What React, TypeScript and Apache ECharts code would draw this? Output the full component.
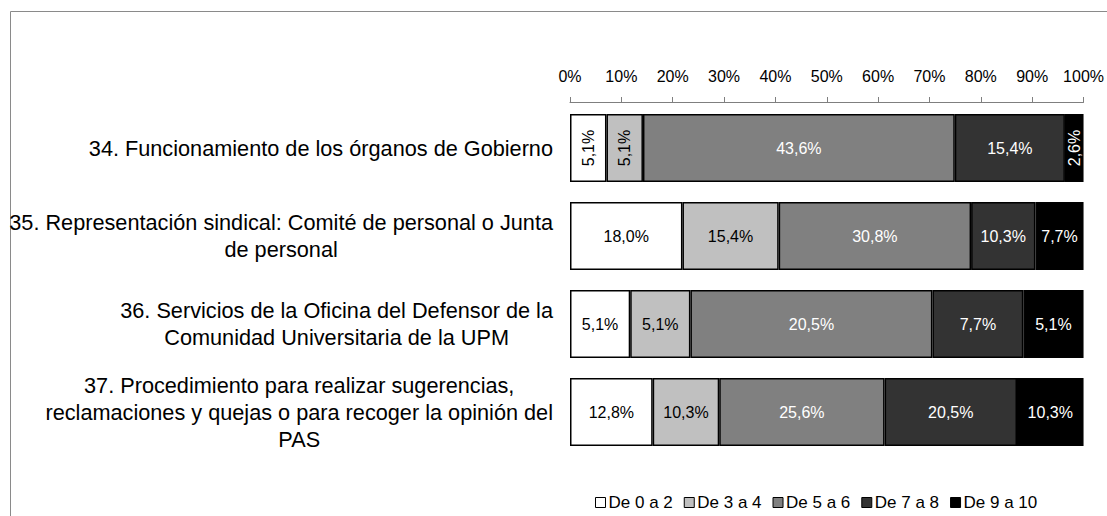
import React, { useEffect, useRef } from "react";
import * as echarts from "echarts";

const categories = [
  "34. Funcionamiento de los órganos de Gobierno",
  "35. Representación sindical: Comité de personal o Junta\nde personal",
  "36. Servicios de la Oficina del Defensor de la\nComunidad Universitaria de la UPM",
  "37. Procedimiento para realizar sugerencias,\nreclamaciones y quejas o para recoger la opinión del\nPAS",
];
const seriesNames = ["De 0 a 2", "De 3 a 4", "De 5 a 6", "De 7 a 8", "De 9 a 10"];
const de0a2 = [5.1, 18.0, 5.1, 12.8];
const de3a4 = [5.1, 15.4, 5.1, 10.3];
const de5a6 = [43.6, 30.8, 20.5, 25.6];
const de7a8 = [15.4, 10.3, 7.7, 20.5];
const de9a10 = [2.6, 7.7, 5.1, 10.3];
const tickLabels = ["0%", "10%", "20%", "30%", "40%", "50%", "60%", "70%", "80%", "90%", "100%"];

const rawSeries = [de0a2, de3a4, de5a6, de7a8, de9a10];
const colors = ["#ffffff", "#c0c0c0", "#808080", "#333333", "#000000"];
const labelColors = ["#000000", "#000000", "#ffffff", "#ffffff", "#ffffff"];
const FONT = "Liberation Sans";

export default function App() {
  const ref = useRef<HTMLDivElement>(null);
  useEffect(() => {
    if (!ref.current) return;
    const chart = echarts.init(ref.current, null, { renderer: "svg" });
    const totals = categories.map((_, i) => rawSeries.reduce((s, arr) => s + arr[i], 0));

    const series = rawSeries.map((arr, si) => ({
      name: seriesNames[si],
      type: "bar",
      stack: "total",
      barWidth: 68,
      itemStyle: { color: colors[si], borderColor: "#000", borderWidth: 1.5 },
      label: {
        show: true,
        position: "inside",
        color: labelColors[si],
        fontFamily: FONT,
        fontSize: 16,
        formatter: (p: any) => arr[p.dataIndex].toFixed(1).replace(".", ",") + "%",
      },
      data: arr.map((v, i) => {
        const share = (v / totals[i]) * 100;
        return share < 9 ? { value: share, label: { rotate: 90 } } : { value: share };
      }),
    }));

    chart.setOption({
      animation: false,
      backgroundColor: "#ffffff",
      grid: { left: 570, right: 23, top: 104, bottom: 60, containLabel: false },
      xAxis: {
        type: "value",
        position: "top",
        min: 0,
        max: 100,
        interval: 10,
        offset: 2,
        splitLine: { show: false },
        axisLine: { show: true, lineStyle: { color: "#7f7f7f", width: 1 } },
        axisTick: { show: true, length: 5, lineStyle: { color: "#7f7f7f" } },
        axisLabel: {
          margin: 18,
          fontFamily: FONT,
          fontSize: 16,
          color: "#000",
          formatter: (v: number) => tickLabels[Math.round(v / 10)],
        },
      },
      yAxis: {
        type: "category",
        inverse: true,
        data: categories,
        axisLine: { show: false },
        axisTick: { show: false },
        axisLabel: { show: false },
      },
      legend: {
        left: 595,
        top: 494,
        padding: 0,
        itemWidth: 10,
        itemHeight: 10,
        itemGap: 11,
        icon: "rect",
        textStyle: { fontFamily: FONT, fontSize: 17, color: "#000", padding: [0, 0, 0, -2] },
        data: seriesNames.map((n, i) => ({
          name: n,
          itemStyle: { color: colors[i], borderColor: "#000", borderWidth: 1 },
        })),
      },
      series,
    });

    // category labels: block right-aligned, lines centered
    const canvas = document.createElement("canvas");
    const ctx = canvas.getContext("2d")!;
    const fontSize = 21.7;
    ctx.font = `${fontSize}px "${FONT}"`;
    const rightEdge = 553;
    const texts = categories.map((c) => {
      const lines = c.split("\n");
      const w = Math.max(...lines.map((l) => ctx.measureText(l).width));
      const y = chart.convertToPixel({ yAxisIndex: 0 }, c) as unknown as number;
      return {
        type: "text",
        x: rightEdge - w / 2,
        y,
        style: {
          text: c,
          fontFamily: FONT,
          fontSize,
          fill: "#000",
          align: "center",
          verticalAlign: "middle",
          lineHeight: 27,
        },
      };
    });

    chart.setOption({
      graphic: [
        {
          type: "rect",
          shape: { x: 10.5, y: 11.5, width: 1300, height: 700 },
          style: { fill: "none", stroke: "#8a8a8a", lineWidth: 1 },
          silent: true,
        },
        ...texts,
      ],
    });

    return () => chart.dispose();
  }, []);
  return (
    <div
      ref={ref}
      style={{ position: "absolute", left: 0, top: 0, width: 1107, height: 516 }}
    />
  );
}
